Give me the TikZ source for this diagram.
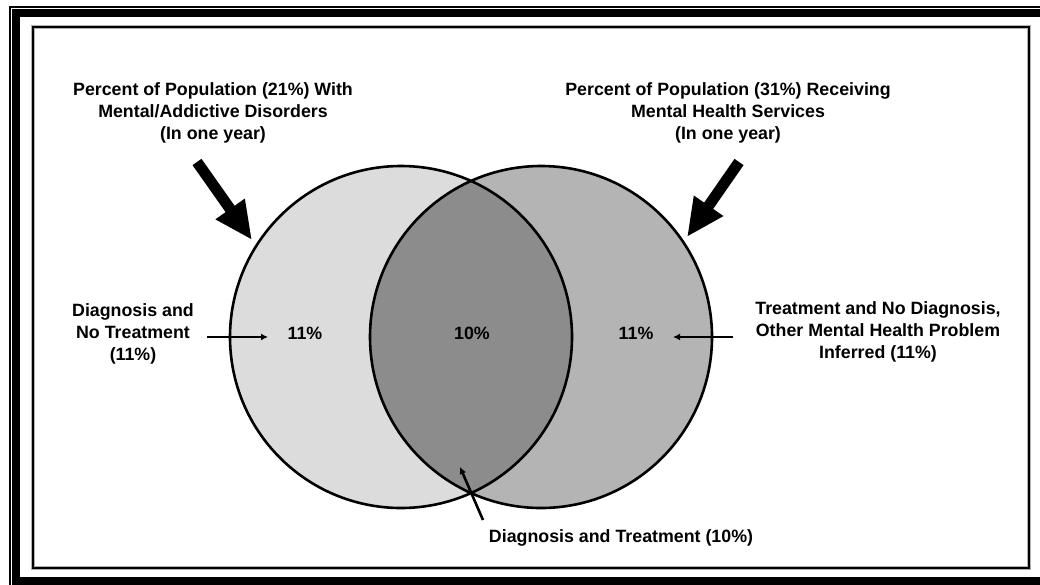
\documentclass[tikz,border=0pt]{standalone}
\usepackage{fontspec}
\setmainfont{Liberation Sans}
\usetikzlibrary{arrows.meta}
\definecolor{lightc}{RGB}{220,220,220}
\definecolor{rightc}{RGB}{180,180,180}
\definecolor{midc}{RGB}{140,140,140}
\begin{document}
\begin{tikzpicture}[x=1pt,y=-1pt,
  lbl/.style={font=\fontsize{17.8}{22}\selectfont\bfseries, align=center, inner sep=0pt},
  bigarrow/.style={line width=11pt, -{Triangle[length=38pt,width=33pt]}},
  smallarrow/.style={line width=2.6pt, -{Latex[length=7pt,width=7pt]}},
  ring/.style={draw=black, line width=2.6pt}]
\useasboundingbox (0,0) rectangle (1040,584);
% frame
\begin{scope}
\clip (0,0) rectangle (1040,584);
\draw[line width=2pt] (10,6.7) rectangle (1062,606);
\draw[line width=8pt] (16.2,13) rectangle (1052,581);
\end{scope}
\draw[gray!60, line width=4.5pt] (33,27) rectangle (1029,568);
\draw[line width=2.4pt] (33,27) rectangle (1029,568);
% circles
\coordinate (cl) at (401,337);
\coordinate (cr) at (541,337);
\fill[lightc] (cl) circle[radius=171pt];
\fill[rightc] (cr) circle[radius=171pt];
\begin{scope}
\clip (cl) circle[radius=171pt];
\fill[midc] (cr) circle[radius=171pt];
\end{scope}
\node[ring, circle, minimum size=342pt, inner sep=0pt] (L) at (cl) {};
\node[ring, circle, minimum size=342pt, inner sep=0pt] (R) at (cr) {};
% titles
\node[lbl] (tl) at (213,113) {Percent of Population (21\%) With\\Mental/Addictive Disorders\\(In one year)};
\node[lbl] (tr) at (728,113) {Percent of Population (31\%) Receiving\\Mental Health Services\\(In one year)};
% big arrows
\coordinate (al1) at (197,162);
\coordinate (al2) at (252,240);
\coordinate (ar1) at (739,162);
\coordinate (ar2) at (687,237);
\draw[bigarrow] (al1) -- (al2);
\draw[bigarrow] (ar1) -- (ar2);
% percentages
\node[lbl] (pl) at (305,333) {11\%};
\node[lbl] (pm) at (472,333) {10\%};
\node[lbl] (pr) at (636,333) {11\%};
% side labels
\node[lbl] (sl) at (133,334) {Diagnosis and\\No Treatment\\(11\%)};
\node[lbl] (sr) at (878,332) {Treatment and No Diagnosis,\\Other Mental Health Problem\\Inferred (11\%)};
\node[lbl] (sb) at (621,538) {Diagnosis and Treatment (10\%)};
\coordinate (sl1) at (207,337);
\coordinate (sl2) at (268,337);
\coordinate (sr1) at (733,337);
\coordinate (sr2) at (673,337);
\coordinate (sb1) at (483,520);
\coordinate (sb2) at (460,467);
\draw[smallarrow] (sl1) -- (sl2);
\draw[smallarrow] (sr1) -- (sr2);
\draw[smallarrow] (sb1) -- (sb2);
\end{tikzpicture}
\end{document}
